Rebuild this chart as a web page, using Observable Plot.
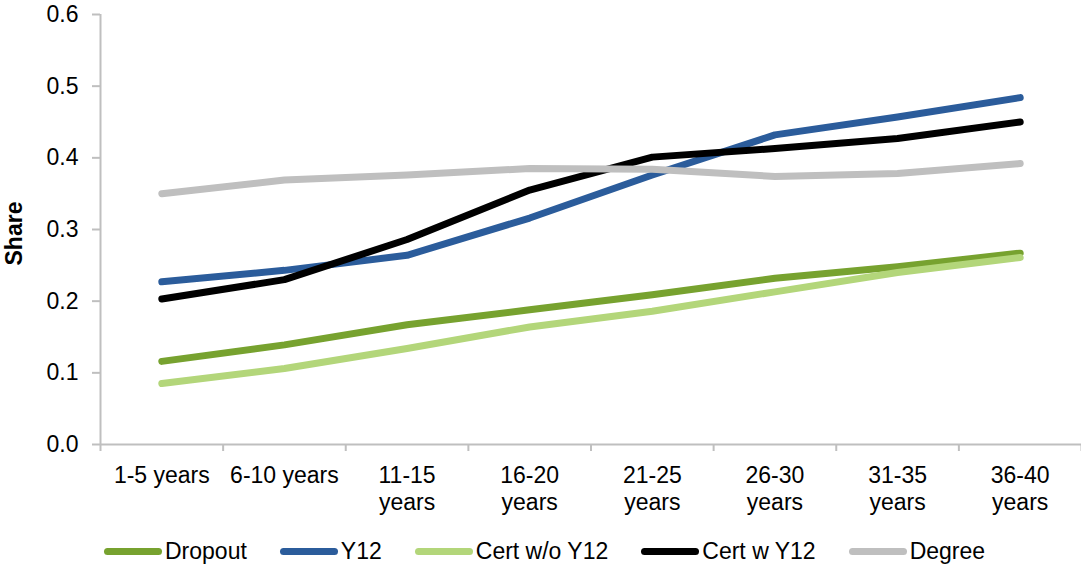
<!DOCTYPE html>
<html>
<head>
<meta charset="utf-8">
<script src="https://cdn.jsdelivr.net/npm/d3@7"></script>
<script src="https://cdn.jsdelivr.net/npm/@observablehq/plot@0.6"></script>
<style>
  html, body { margin: 0; padding: 0; background: #fff; }
  #chart { width: 1081px; font-family: "Liberation Sans", Arial, sans-serif; }
  .legend { display: flex; align-items: center; margin-top: 18px; height: 28px; padding-left: 104px; gap: 33px; font-size: 23px; color: #000; }
  .item { display: flex; align-items: center; }
  .sw { display: inline-block; width: 58px; height: 7px; border-radius: 4px; margin-right: 3px; }
</style>
</head>
<body>
<div id="chart"></div>
<script>
const categories = ["1-5 years","6-10 years","11-15 years","16-20 years","21-25 years","26-30 years","31-35 years","36-40 years"];
const tickLabels = ["1-5 years","6-10 years","11-15\nyears","16-20\nyears","21-25\nyears","26-30\nyears","31-35\nyears","36-40\nyears"];
const seriesNames = ["Dropout","Y12","Cert w/o Y12","Cert w Y12","Degree"];
const seriesColors = ["#77A22F","#2B5C9B","#B3D67A","#000000","#BFBFBF"];
const dropout   = [0.116,0.139,0.167,0.188,0.209,0.232,0.248,0.267];
const y12       = [0.227,0.243,0.264,0.316,0.376,0.432,0.457,0.484];
const certNoY12 = [0.085,0.106,0.134,0.164,0.186,0.213,0.240,0.261];
const certY12   = [0.203,0.230,0.286,0.355,0.401,0.413,0.427,0.450];
const degree    = [0.350,0.369,0.376,0.385,0.384,0.374,0.378,0.392];
const yTicks = [0,0.1,0.2,0.3,0.4,0.5,0.6];

const seriesValues = [dropout, y12, certNoY12, certY12, degree];
const rows = [];
seriesNames.forEach((s, k) => seriesValues[k].forEach((v, i) => rows.push({series: s, i, cat: categories[i], value: v})));
const idx = categories.map((_, i) => i);
const bounds = d3.range(categories.length + 1).map(i => i - 0.5);

const axisGray = "#BFBFBF";
const chart = Plot.plot({
  width: 1081,
  height: 519,
  marginLeft: 100,
  marginRight: 0,
  marginTop: 14,
  marginBottom: 75,
  style: {fontFamily: "'Liberation Sans', Arial, sans-serif", fontSize: "23px", color: "#000", background: "#fff"},
  x: {type: "linear", domain: [-0.5, categories.length - 0.5], axis: null},
  y: {domain: [0, 0.6], axis: null},
  color: {domain: seriesNames, range: seriesColors},
  marks: [
    Plot.ruleX([bounds[0]], {stroke: axisGray, strokeWidth: 2}),
    Plot.ruleY([0], {stroke: axisGray, strokeWidth: 2}),
    Plot.axisY({ticks: yTicks, tickFormat: d3.format(".1f"), tickSize: 8, tickPadding: 14, stroke: axisGray, strokeWidth: 2, fill: "#000", fontSize: 23, label: null}),
    Plot.axisX({ticks: bounds, tickFormat: () => "", tickSize: 7, stroke: axisGray, strokeWidth: 2, label: null}),
    Plot.text(idx, {x: d => d, text: d => tickLabels[d], frameAnchor: "bottom", lineAnchor: "top", dy: 19, lineHeight: 1.17, fontSize: 23, fill: "#000"}),
    Plot.text(["Share"], {frameAnchor: "left", textAnchor: "middle", rotate: -90, dx: -86, dy: 4, fontWeight: "bold", fontSize: 23, fill: "#000"}),
    Plot.line(rows, {x: "i", y: "value", z: "series", stroke: "series", strokeWidth: 7, strokeLinecap: "round", strokeLinejoin: "round"})
  ]
});
const root = document.getElementById("chart");
root.appendChild(chart);

const legend = document.createElement("div");
legend.className = "legend";
seriesNames.forEach((s, k) => {
  const it = document.createElement("div");
  it.className = "item";
  const sw = document.createElement("span");
  sw.className = "sw";
  sw.style.background = seriesColors[k];
  const t = document.createElement("span");
  t.textContent = s;
  it.appendChild(sw); it.appendChild(t);
  legend.appendChild(it);
});
root.appendChild(legend);
</script>
</body>
</html>
